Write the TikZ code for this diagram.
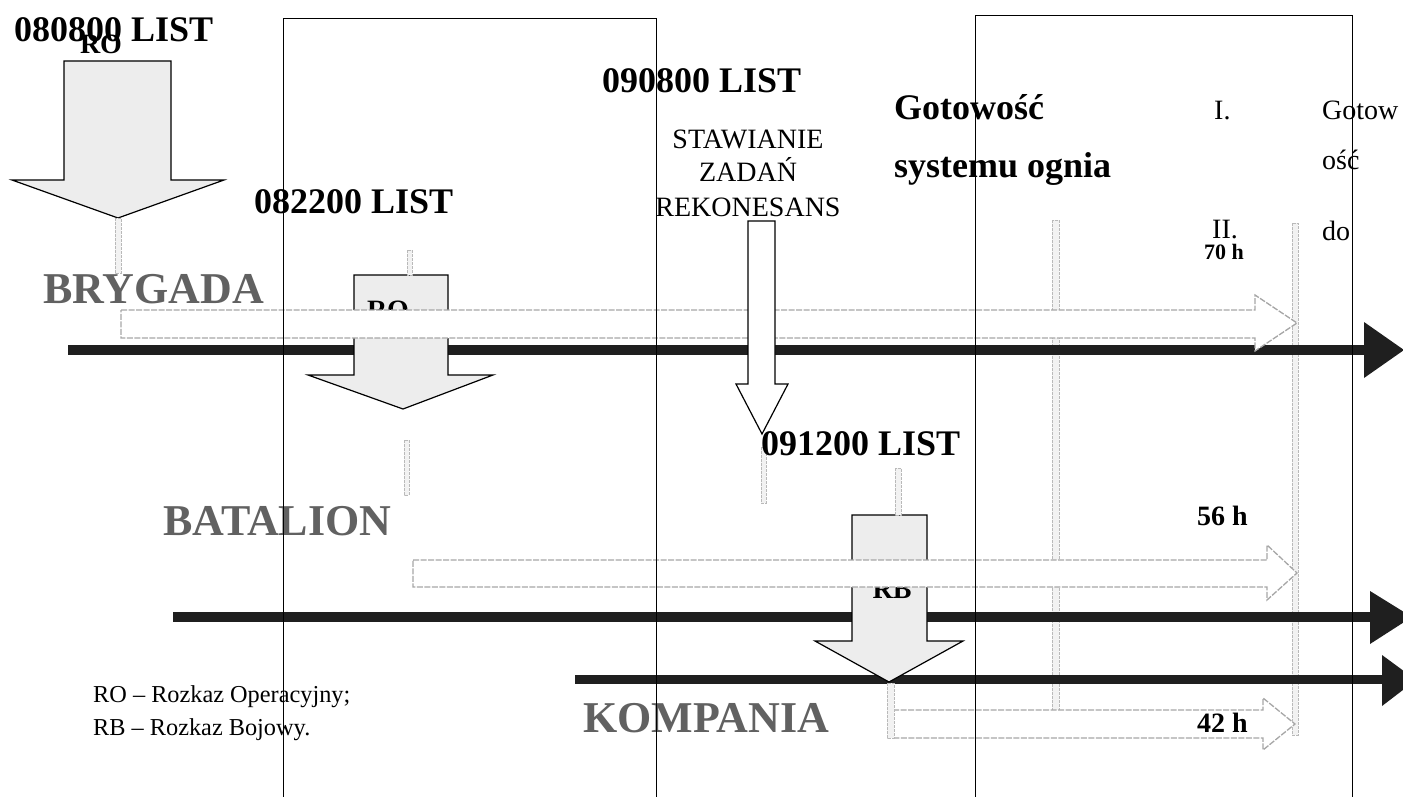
\documentclass[tikz,border=0pt]{standalone}
\usepackage{fontspec}
\setmainfont{Liberation Serif}
\begin{document}
\begin{tikzpicture}[x=1pt,y=-1pt,
  frame/.style={draw=black,line width=0.9pt},
  thickarrow/.style={fill=black!88,draw=none},
  bigarrow/.style={fill=gray!14,draw=black,line width=1.2pt,line join=miter},
  openarrow/.style={fill=white,draw=black,line width=1.2pt},
  bar/.style={fill=white,draw=gray!70,line width=1.3pt,dash pattern=on 6pt off 1.5pt},
  stub/.style={fill=gray!10,draw=gray!55,line width=1pt,dash pattern=on 3pt off 1pt},
  big/.style={font=\fontsize{36}{40}\selectfont\bfseries,inner sep=0pt},
  lvl/.style={font=\fontsize{44}{48}\selectfont\bfseries,text=black!62,inner sep=0pt},
  mid/.style={font=\fontsize{28}{32}\selectfont,inner sep=0pt},
  midb/.style={font=\fontsize{28}{32}\selectfont\bfseries,inner sep=0pt},
  leg/.style={font=\fontsize{24.3}{28}\selectfont,inner sep=0pt}]
\useasboundingbox (0,0) rectangle (1403,797);
\clip (0,0) rectangle (1403,797);
\fill[white] (0,0) rectangle (1403,797);

% double vertical guide lines
\draw[stub] (1052,220) rectangle (1059,710);
\draw[stub] (1292,223) rectangle (1298,735);

% thick black time axes
\fill[thickarrow] (68,345) rectangle (1366,355);
\fill[thickarrow] (1364,322) -- (1404,350) -- (1364,378) -- cycle;
\fill[thickarrow] (173,612) rectangle (1372,622);
\fill[thickarrow] (1370,591) -- (1412,617) -- (1370,644) -- cycle;
\fill[thickarrow] (575,675) rectangle (1384,684);
\fill[thickarrow] (1382,655) -- (1416,680) -- (1382,706) -- cycle;

% big gray arrows
\draw[bigarrow] (64,61) -- (171,61) -- (171,180) -- (224,180) -- (118,218) -- (12,180) -- (64,180) -- cycle;
\draw[bigarrow] (354,275) -- (448,275) -- (448,375) -- (493,375) -- (403,409) -- (308,375) -- (354,375) -- cycle;
\node[midb,anchor=base] (ro2) at (388,319) {RO};
\draw[bigarrow] (852,515) -- (927,515) -- (927,641) -- (963,641) -- (889,682) -- (815,641) -- (852,641) -- cycle;
\node[midb,anchor=base] (rb) at (892,598) {RB};

% open time bars
\draw[bar] (121,310) -- (1255,310) -- (1255,295) -- (1297,323) -- (1255,351) -- (1255,338) -- (121,338) -- cycle;
\draw[bar] (413,560) -- (1267,560) -- (1267,545) -- (1297,573) -- (1267,600) -- (1267,587) -- (413,587) -- cycle;
\draw[bar] (893,710) -- (1263,710) -- (1263,698) -- (1295,724) -- (1263,750) -- (1263,738) -- (893,738) -- cycle;

% open arrow
\draw[openarrow] (748,221) -- (775,221) -- (775,384) -- (788,384) -- (762,434) -- (736,384) -- (748,384) -- cycle;

% stubs
\draw[stub] (115,218) rectangle (121,273);
\draw[stub] (407,250) rectangle (412,275);
\draw[stub] (404,440) rectangle (409,495);
\draw[stub] (761,447) rectangle (766,503);
\draw[stub] (895,468) rectangle (901,515);
\draw[stub] (887,683) rectangle (894,738);

% texts
\node[big,anchor=base west] (t1) at (14,42) {080800 LIST};
\node[midb,anchor=base] (ro1) at (101,54) {RO};
\node[big,anchor=base west] (t2) at (254,213) {082200 LIST};
\node[big,anchor=base west] (t3) at (602,93) {090800 LIST};
\node[big,anchor=base west] (t4) at (761,455) {091200 LIST};
\node[mid,anchor=base] (s1) at (748,149) {STAWIANIE};
\node[mid,anchor=base] (s2) at (748,182) {ZADAŃ};
\node[mid,anchor=base] (s3) at (748,216) {REKONESANS};
\node[big,anchor=base west] (g1) at (894,120) {Gotowość};
\node[big,anchor=base west] (g2) at (894,177) {systemu ognia};
\node[mid,anchor=base west] (r1) at (1214,120) {I.};
\node[mid,anchor=base west] (r2) at (1212,238) {II.};
\node[font=\fontsize{22}{24}\selectfont\bfseries,inner sep=0pt,anchor=base west] (h70) at (1204,259) {70 h};
\node[midb,anchor=base west] (h56) at (1197,525) {56 h};
\node[midb,anchor=base west] (h42) at (1197,732) {42 h};
\node[mid,anchor=base west] (d1) at (1322,120) {Gotow};
\node[mid,anchor=base west] (d2) at (1322,170) {ość};
\node[mid,anchor=base west] (d3) at (1322,240) {do};
\node[lvl,anchor=base west] (bry) at (43,303) {BRYGADA};
\node[lvl,anchor=base west] (bat) at (163,535) {BATALION};
\node[lvl,anchor=base west] (kom) at (583,732) {KOMPANIA};
\node[leg,anchor=base west] (l1) at (93,702) {RO – Rozkaz Operacyjny;};
\node[leg,anchor=base west] (l2) at (93,735) {RB – Rozkaz Bojowy.};

% thin frame lines
\draw[frame] (283,800) -- (283,18) -- (656,18) -- (656,800);
\draw[frame] (975,800) -- (975,15) -- (1352,15) -- (1352,800);
\end{tikzpicture}
\end{document}
